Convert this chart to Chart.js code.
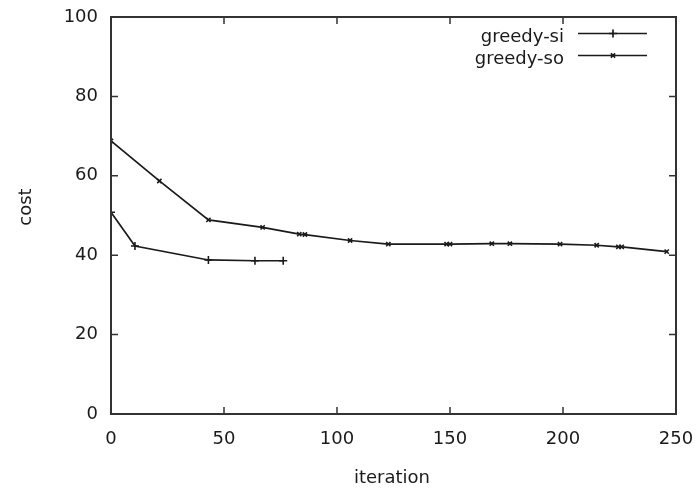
<!DOCTYPE html>
<html>
<head>
<meta charset="utf-8">
<title>cost vs iteration</title>
<script src="https://cdn.jsdelivr.net/npm/chart.js@4.4.1/dist/chart.umd.min.js"></script>
<style>
    html, body { margin: 0; padding: 0; background: #fff; }
    #wrap { width: 699px; height: 490px; }
</style>
</head>
<body>
<div id="wrap"><canvas id="myChart" width="699" height="490"></canvas></div>
<script>
// greedy-si run
const iterSi = [0, 10.6, 43.1, 63.7, 76.2];
const costSi = [50.8, 42.3, 38.8, 38.6, 38.6];

// greedy-so run
const iterSo = [0, 21.4, 43.1, 67.1, 83.3, 85.8, 105.8, 122.7, 148.5, 150, 168.5, 176.5, 198.7, 214.9, 224.5, 226, 245.9];
const costSo = [68.8, 58.7, 48.9, 47.0, 45.3, 45.2, 43.7, 42.8, 42.8, 42.8, 42.9, 42.9, 42.8, 42.5, 42.1, 42.1, 40.9];

const xTicks = [0, 50, 100, 150, 200, 250];
const yTicks = [0, 20, 40, 60, 80, 100];

const seriesNames = ['greedy-si', 'greedy-so'];
const FONT = '18px "DejaVu Sans"';
const INK = '#1a1a1a';

function toPoints(xs, ys) {
    return xs.map((x, i) => ({ x: x, y: ys[i] }));
}

// keep the plot box where the layout padding puts it
function noOverhang(s) {
    s.paddingLeft = 0;
    s.paddingRight = 0;
    s.paddingTop = 0;
    s.paddingBottom = 0;
}

// frame, inward ticks on all four sides, axis titles and the key
const gnuplotFrame = {
    id: 'gnuplotFrame',
    afterDatasetsDraw(chart) {
        const ctx = chart.ctx;
        const a = chart.chartArea;
        const xs = chart.scales.x;
        const ys = chart.scales.y;
        const tick = 7;

        ctx.save();
        ctx.strokeStyle = '#333';
        ctx.lineWidth = 2;
        ctx.strokeRect(a.left, a.top, a.right - a.left, a.bottom - a.top);

        ctx.lineWidth = 1.5;
        ctx.beginPath();
        xTicks.forEach(v => {
            const px = xs.getPixelForValue(v);
            ctx.moveTo(px, a.bottom); ctx.lineTo(px, a.bottom - tick);
            ctx.moveTo(px, a.top); ctx.lineTo(px, a.top + tick);
        });
        yTicks.forEach(v => {
            const py = ys.getPixelForValue(v);
            ctx.moveTo(a.left, py); ctx.lineTo(a.left + tick, py);
            ctx.moveTo(a.right, py); ctx.lineTo(a.right - tick, py);
        });
        ctx.stroke();

        ctx.fillStyle = INK;
        ctx.font = FONT;
        ctx.textAlign = 'center';
        ctx.textBaseline = 'middle';
        ctx.fillText('iteration', 392, 478);

        ctx.save();
        ctx.translate(26, 207);
        ctx.rotate(-Math.PI / 2);
        ctx.fillText('cost', 0, 0);
        ctx.restore();

        // key in the top right corner
        ctx.textAlign = 'right';
        ctx.textBaseline = 'alphabetic';
        chart.data.datasets.forEach((ds, i) => {
            const base = 42 + i * 22;
            const ly = base - 8.5;
            ctx.fillStyle = INK;
            ctx.fillText(seriesNames[i], 564, base);
            ctx.strokeStyle = ds.borderColor;
            ctx.lineWidth = ds.borderWidth;
            ctx.beginPath();
            ctx.moveTo(578, ly);
            ctx.lineTo(647, ly);
            ctx.stroke();
            Chart.helpers.drawPoint(ctx, {
                pointStyle: ds.pointStyle,
                radius: ds.pointRadius,
                borderWidth: 1.6
            }, 613, ly);
        });
        ctx.restore();
    }
};

function renderChart() {
    const ctx = document.getElementById('myChart').getContext('2d');
    new Chart(ctx, {
        type: 'line',
        data: {
            datasets: [{
                label: seriesNames[0],
                data: toPoints(iterSi, costSi),
                borderColor: INK,
                borderWidth: 1.7,
                pointStyle: 'cross',
                pointRadius: 4,
                pointBorderColor: INK,
                pointBorderWidth: 1.6,
                tension: 0,
                fill: false
            }, {
                label: seriesNames[1],
                data: toPoints(iterSo, costSo),
                borderColor: INK,
                borderWidth: 1.7,
                pointStyle: 'crossRot',
                pointRadius: 3,
                pointBorderColor: INK,
                pointBorderWidth: 1.6,
                tension: 0,
                fill: false
            }]
        },
        options: {
            responsive: false,
            animation: false,
            layout: { padding: { left: 0, top: 17, right: 23, bottom: 0 } },
            plugins: {
                legend: { display: false },
                tooltip: { enabled: false }
            },
            scales: {
                x: {
                    type: 'linear',
                    min: 0,
                    max: 250,
                    afterBuildTicks: s => { s.ticks = xTicks.map(v => ({ value: v })); },
                    afterFit: s => { s.height = 76; noOverhang(s); },
                    grid: { display: false, drawTicks: false },
                    border: { display: false },
                    ticks: { color: INK, font: { family: 'DejaVu Sans', size: 18 }, padding: 15, maxRotation: 0 }
                },
                y: {
                    min: 0,
                    max: 100,
                    afterBuildTicks: s => { s.ticks = yTicks.map(v => ({ value: v })); },
                    afterFit: s => { s.width = 111; noOverhang(s); },
                    grid: { display: false, drawTicks: false },
                    border: { display: false },
                    ticks: { color: INK, font: { family: 'DejaVu Sans', size: 18 }, padding: 13 }
                }
            }
        },
        plugins: [gnuplotFrame]
    });
}

renderChart();
</script>
</body>
</html>
